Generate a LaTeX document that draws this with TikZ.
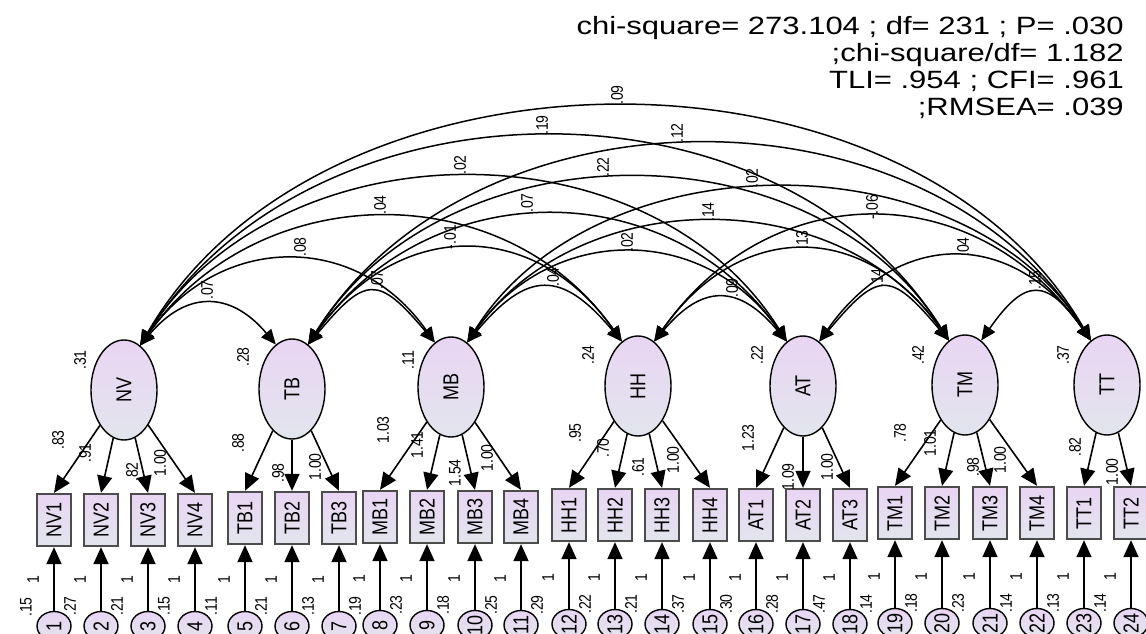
\documentclass[tikz,border=0pt]{standalone}
\usepackage{fontspec}
\setmainfont{Liberation Sans}
\usepackage{graphicx}
\usetikzlibrary{shapes.geometric, arrows.meta}

\definecolor{lav}{RGB}{233,213,243}
\definecolor{mist}{RGB}{226,229,237}

\newcommand{\vtxt}[1]{\rotatebox{90}{\scalebox{1}[1.2]{#1}}}

\begin{document}
\begin{tikzpicture}[
    x=1pt, y=1pt,
    >={Triangle[length=17pt, width=15pt]},
    latent/.style={ellipse, draw, line width=1.4pt, top color=lav, bottom color=mist, minimum width=66pt, minimum height=100pt, inner sep=0pt, font=\fontsize{18}{20}\selectfont},
    obs/.style={rectangle, draw=black!70, line width=2.3pt, top color=lav, bottom color=mist, minimum width=34pt, minimum height=52pt, inner sep=0pt, font=\fontsize{18}{20}\selectfont},
    err/.style={ellipse, draw, line width=1.4pt, top color=lav, bottom color=mist, minimum width=34pt, minimum height=29pt, inner sep=0pt, font=\fontsize{18}{20}\selectfont},
    num/.style={rotate=90, yscale=1.2, inner sep=0pt, font=\fontsize{14}{16}\selectfont},
    load/.style={->, line width=1.6pt},
    cov/.style={>={Triangle[length=15pt, width=13pt]}, <->, line width=1.5pt}
]
\useasboundingbox (0,0) rectangle (1146,633);

% Fit statistics
\node[anchor=north east, align=right, inner sep=0pt, xscale=1.24, font=\fontsize{25}{27}\selectfont] (fitstat) at (1124,616.5)
    {chi-square= 273.104 ; df= 231 ; P= .030\\;chi-square/df= 1.182\\TLI= .954 ; CFI= .961\\;RMSEA= .039};

% Latent factors
\node[latent] (NV) at (124,243) {\vtxt{NV}};
\node[latent] (TB) at (292,244) {\vtxt{TB}};
\node[latent] (MB) at (451,246) {\vtxt{MB}};
\node[latent] (HH) at (638,247) {\vtxt{HH}};
\node[latent] (AT) at (803,247) {\vtxt{AT}};
\node[latent] (TM) at (965,248) {\vtxt{TM}};
\node[latent] (TT) at (1107,248) {\vtxt{TT}};

\node[num] (vNV) at (80,273) {.31};
\node[num] (vTB) at (243,276) {.28};
\node[num] (vMB) at (408,273) {.11};
\node[num] (vHH) at (588,278) {.24};
\node[num] (vAT) at (757,278) {.22};
\node[num] (vTM) at (918,278) {.42};
\node[num] (vTT) at (1063,278) {.37};

% Observed items
\node[obs] (NV1) at (54,113) {\vtxt{NV1}};
\node[obs] (NV2) at (101,113) {\vtxt{NV2}};
\node[obs] (NV3) at (148,113) {\vtxt{NV3}};
\node[obs] (NV4) at (195,113) {\vtxt{NV4}};
\node[obs] (TB1) at (245,115) {\vtxt{TB1}};
\node[obs] (TB2) at (292,115) {\vtxt{TB2}};
\node[obs] (TB3) at (339,115) {\vtxt{TB3}};
\node[obs] (MB1) at (380,116) {\vtxt{MB1}};
\node[obs] (MB2) at (427,116) {\vtxt{MB2}};
\node[obs] (MB3) at (475,116) {\vtxt{MB3}};
\node[obs] (MB4) at (521,116) {\vtxt{MB4}};
\node[obs] (HH1) at (569,118) {\vtxt{HH1}};
\node[obs] (HH2) at (615,118) {\vtxt{HH2}};
\node[obs] (HH3) at (662,118) {\vtxt{HH3}};
\node[obs] (HH4) at (710,118) {\vtxt{HH4}};
\node[obs] (AT1) at (756,118) {\vtxt{AT1}};
\node[obs] (AT2) at (803,118) {\vtxt{AT2}};
\node[obs] (AT3) at (850,118) {\vtxt{AT3}};
\node[obs] (TM1) at (895,120) {\vtxt{TM1}};
\node[obs] (TM2) at (942,120) {\vtxt{TM2}};
\node[obs] (TM3) at (990,120) {\vtxt{TM3}};
\node[obs] (TM4) at (1037,120) {\vtxt{TM4}};
\node[obs] (TT1) at (1084,120) {\vtxt{TT1}};
\node[obs] (TT2) at (1131,120) {\vtxt{TT2}};

% Error terms
\node[err] (e1) at (54,7) {\vtxt{1}};
\node[err] (e2) at (101,7) {\vtxt{2}};
\node[err] (e3) at (148,7) {\vtxt{3}};
\node[err] (e4) at (195,7) {\vtxt{4}};
\node[err] (e5) at (245,7) {\vtxt{5}};
\node[err] (e6) at (292,7) {\vtxt{6}};
\node[err] (e7) at (339,7) {\vtxt{7}};
\node[err] (e8) at (380,8) {\vtxt{8}};
\node[err] (e9) at (427,8) {\vtxt{9}};
\node[err] (e10) at (475,8) {\vtxt{10}};
\node[err] (e11) at (521,8) {\vtxt{11}};
\node[err] (e12) at (569,9) {\vtxt{12}};
\node[err] (e13) at (615,9) {\vtxt{13}};
\node[err] (e14) at (662,9) {\vtxt{14}};
\node[err] (e15) at (710,9) {\vtxt{15}};
\node[err] (e16) at (756,9) {\vtxt{16}};
\node[err] (e17) at (803,9) {\vtxt{17}};
\node[err] (e18) at (850,9) {\vtxt{18}};
\node[err] (e19) at (895,10) {\vtxt{19}};
\node[err] (e20) at (942,10) {\vtxt{20}};
\node[err] (e21) at (990,10) {\vtxt{21}};
\node[err] (e22) at (1037,10) {\vtxt{22}};
\node[err] (e23) at (1084,10) {\vtxt{23}};
\node[err] (e24) at (1131,10) {\vtxt{24}};

% Loadings
\draw[load] (NV) -- (NV1.north);
\draw[load] (NV) -- (NV2.north);
\draw[load] (NV) -- (NV3.north);
\draw[load] (NV) -- (NV4.north);
\draw[load] (TB) -- (TB1.north);
\draw[load] (TB) -- (TB2.north);
\draw[load] (TB) -- (TB3.north);
\draw[load] (MB) -- (MB1.north);
\draw[load] (MB) -- (MB2.north);
\draw[load] (MB) -- (MB3.north);
\draw[load] (MB) -- (MB4.north);
\draw[load] (HH) -- (HH1.north);
\draw[load] (HH) -- (HH2.north);
\draw[load] (HH) -- (HH3.north);
\draw[load] (HH) -- (HH4.north);
\draw[load] (AT) -- (AT1.north);
\draw[load] (AT) -- (AT2.north);
\draw[load] (AT) -- (AT3.north);
\draw[load] (TM) -- (TM1.north);
\draw[load] (TM) -- (TM2.north);
\draw[load] (TM) -- (TM3.north);
\draw[load] (TM) -- (TM4.north);
\draw[load] (TT) -- (TT1.north);
\draw[load] (TT) -- (TT2.north);

\node[num] (lNV1) at (58,193) {.83};
\node[num] (lNV2) at (85,180) {.91};
\node[num] (lNV3) at (132,161) {.82};
\node[num] (lNV4) at (160,170) {1.00};
\node[num] (lTB1) at (238,190) {.88};
\node[num] (lTB2) at (278,160) {.98};
\node[num] (lTB3) at (315,166) {1.00};
\node[num] (lMB1) at (383,203) {1.03};
\node[num] (lMB2) at (417,188) {1.41};
\node[num] (lMB3) at (455,160) {1.54};
\node[num] (lMB4) at (487,175) {1.00};
\node[num] (lHH1) at (575,200) {.95};
\node[num] (lHH2) at (603,185) {.70};
\node[num] (lHH3) at (638,166) {.61};
\node[num] (lHH4) at (673,173) {1.00};
\node[num] (lAT1) at (748,195) {1.23};
\node[num] (lAT2) at (788,156) {1.09};
\node[num] (lAT3) at (827,166) {1.00};
\node[num] (lTM1) at (900,200) {.78};
\node[num] (lTM2) at (930,190) {1.01};
\node[num] (lTM3) at (973,166) {.98};
\node[num] (lTM4) at (1000,173) {1.00};
\node[num] (lTT1) at (1075,186) {.82};
\node[num] (lTT2) at (1112,161) {1.00};

% Error paths
\draw[load] (e1) -- (NV1.south);
\draw[load] (e2) -- (NV2.south);
\draw[load] (e3) -- (NV3.south);
\draw[load] (e4) -- (NV4.south);
\draw[load] (e5) -- (TB1.south);
\draw[load] (e6) -- (TB2.south);
\draw[load] (e7) -- (TB3.south);
\draw[load] (e8) -- (MB1.south);
\draw[load] (e9) -- (MB2.south);
\draw[load] (e10) -- (MB3.south);
\draw[load] (e11) -- (MB4.south);
\draw[load] (e12) -- (HH1.south);
\draw[load] (e13) -- (HH2.south);
\draw[load] (e14) -- (HH3.south);
\draw[load] (e15) -- (HH4.south);
\draw[load] (e16) -- (AT1.south);
\draw[load] (e17) -- (AT2.south);
\draw[load] (e18) -- (AT3.south);
\draw[load] (e19) -- (TM1.south);
\draw[load] (e20) -- (TM2.south);
\draw[load] (e21) -- (TM3.south);
\draw[load] (e22) -- (TM4.south);
\draw[load] (e23) -- (TT1.south);
\draw[load] (e24) -- (TT2.south);

% fixed weights
\node[num] (w1) at (33,53) {1};
\node[num] (w2) at (80,53) {1};
\node[num] (w3) at (127,53) {1};
\node[num] (w4) at (174,53) {1};
\node[num] (w5) at (224,53) {1};
\node[num] (w6) at (271,53) {1};
\node[num] (w7) at (318,53) {1};
\node[num] (w8) at (359,54) {1};
\node[num] (w9) at (406,54) {1};
\node[num] (w10) at (454,54) {1};
\node[num] (w11) at (500,54) {1};
\node[num] (w12) at (548,55) {1};
\node[num] (w13) at (594,55) {1};
\node[num] (w14) at (641,55) {1};
\node[num] (w15) at (689,55) {1};
\node[num] (w16) at (735,55) {1};
\node[num] (w17) at (782,55) {1};
\node[num] (w18) at (829,55) {1};
\node[num] (w19) at (874,56) {1};
\node[num] (w20) at (921,56) {1};
\node[num] (w21) at (969,56) {1};
\node[num] (w22) at (1016,56) {1};
\node[num] (w23) at (1063,56) {1};
\node[num] (w24) at (1110,56) {1};

% error variances
\node[num] (u0) at (26,26) {.15};
\node[num] (u1) at (70,27) {.27};
\node[num] (u2) at (117,27) {.21};
\node[num] (u3) at (164,27) {.15};
\node[num] (u4) at (211,27) {.11};
\node[num] (u5) at (261,27) {.21};
\node[num] (u6) at (308,27) {.13};
\node[num] (u7) at (355,27) {.19};
\node[num] (u8) at (396,28) {.23};
\node[num] (u9) at (443,28) {.18};
\node[num] (u10) at (491,28) {.25};
\node[num] (u11) at (537,28) {.29};
\node[num] (u12) at (585,29) {.22};
\node[num] (u13) at (631,29) {.21};
\node[num] (u14) at (678,29) {.37};
\node[num] (u15) at (726,29) {.30};
\node[num] (u16) at (772,29) {.28};
\node[num] (u17) at (819,29) {.47};
\node[num] (u18) at (866,29) {.14};
\node[num] (u19) at (911,30) {.18};
\node[num] (u20) at (958,30) {.23};
\node[num] (u21) at (1006,30) {.14};
\node[num] (u22) at (1053,30) {.13};
\node[num] (u23) at (1100,30) {.14};

% Covariances between factors
\draw[cov] (NV.70) .. controls +(50:71) and +(130:71) .. (TB.110);
\draw[cov] (TB.70) .. controls +(50:89) and +(130:89) .. (MB.110);
\draw[cov] (MB.70) .. controls +(50:94) and +(130:94) .. (HH.110);
\draw[cov] (HH.70) .. controls +(50:75) and +(130:75) .. (AT.110);
\draw[cov] (AT.70) .. controls +(50:92) and +(130:92) .. (TM.110);
\draw[cov] (TM.70) .. controls +(55:77) and +(125:77) .. (TT.110);
\draw[cov] (NV.70) .. controls +(55:137) and +(125:137) .. (MB.110);
\draw[cov] (TB.70) .. controls +(55:153) and +(125:153) .. (HH.110);
\draw[cov] (MB.70) .. controls +(55:145) and +(125:145) .. (AT.110);
\draw[cov] (HH.70) .. controls +(55:148) and +(125:148) .. (TM.110);
\draw[cov] (AT.70) .. controls +(55:137) and +(125:137) .. (TT.110);
\draw[cov] (NV.70) .. controls +(55:205) and +(125:205) .. (HH.110);
\draw[cov] (TB.70) .. controls +(55:208) and +(125:208) .. (AT.110);
\draw[cov] (MB.70) .. controls +(55:194) and +(125:194) .. (TM.110);
\draw[cov] (HH.70) .. controls +(55:202) and +(125:202) .. (TT.110);
\draw[cov] (NV.70) .. controls +(58:261) and +(122:261) .. (AT.110);
\draw[cov] (TB.70) .. controls +(58:258) and +(122:258) .. (TM.110);
\draw[cov] (MB.70) .. controls +(58:241) and +(122:241) .. (TT.110);
\draw[cov] (NV.70) .. controls +(58:324) and +(122:324) .. (TM.110);
\draw[cov] (TB.70) .. controls +(58:311) and +(122:311) .. (TT.110);
\draw[cov] (NV.70) .. controls +(60:363) and +(120:363) .. (TT.110);

\node[num] (cNVTB) at (207,343) {.07};
\node[num] (cTBMB) at (377,353) {.07};
\node[num] (cMBHH) at (553,356) {.04};
\node[num] (cHHAT) at (732,345) {.09};
\node[num] (cATTM) at (877,355) {.14};
\node[num] (cTMTT) at (1035,353) {.15};
\node[num] (cNVMB) at (300,386) {.08};
\node[num] (cTBHH) at (450,396) {-.01};
\node[num] (cMBAT) at (627,391) {.02};
\node[num] (cHHTM) at (802,393) {.13};
\node[num] (cATTT) at (963,386) {.04};
\node[num] (cNVHH) at (380,428) {.04};
\node[num] (cTBAT) at (527,430) {.07};
\node[num] (cMBTM) at (708,421) {.14};
\node[num] (cHHTT) at (872,426) {-.06};
\node[num] (cNVAT) at (460,468) {.02};
\node[num] (cTBTM) at (603,466) {.22};
\node[num] (cMBTT) at (752,455) {.02};
\node[num] (cNVTM) at (542,508) {.19};
\node[num] (cTBTT) at (677,500) {.12};
\node[num] (cNVTT) at (617,538) {.09};

\end{tikzpicture}
\end{document}
